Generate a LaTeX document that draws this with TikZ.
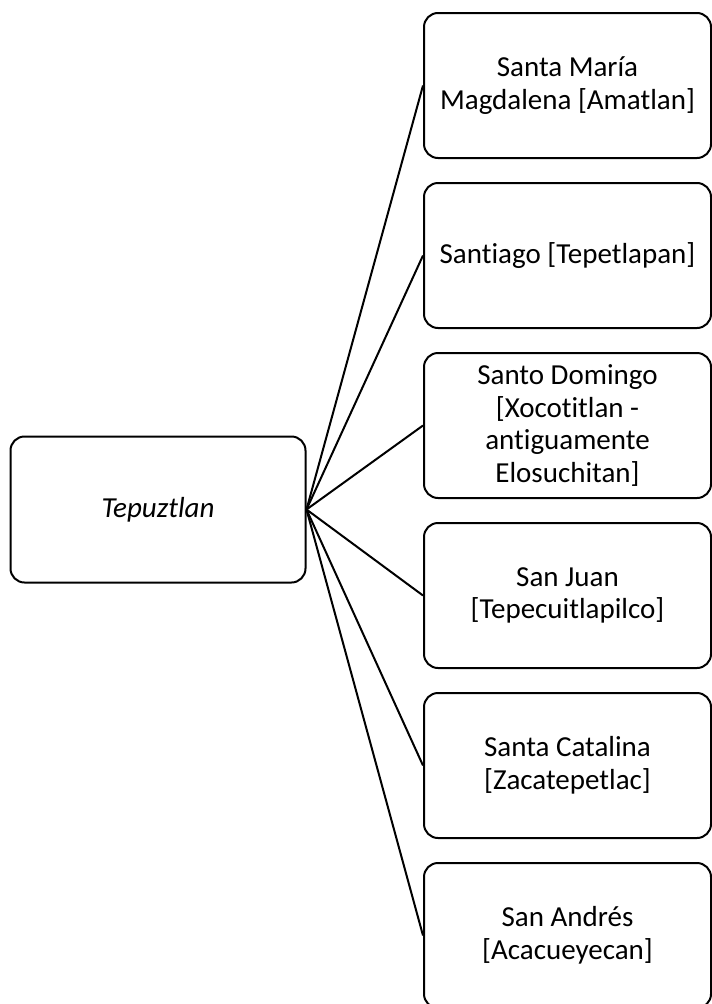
\documentclass[tikz,border=0pt]{standalone}
\usepackage{fontspec}
\setmainfont{Carlito}[Ligatures=NoCommon]
\usetikzlibrary{positioning}

\begin{document}
\begin{tikzpicture}[
  x=1pt, y=-1pt,
  node distance=23pt,
  lugar/.style={draw, line width=2pt, rounded corners=14pt, align=center,
                font=\fontsize{29}{32.5}\selectfont,
                minimum width=287pt, minimum height=145pt, inner sep=2pt},
  cabecera/.style={lugar, minimum width=295pt, minimum height=146pt,
                   font=\fontsize{29}{32.5}\selectfont\itshape},
  rama/.style={line width=2pt}
]
\useasboundingbox (0,0) rectangle (712,1004);
\node[cabecera] (cab) at (158,509.5) {Tepuztlan};
\node[lugar] (l1) at (567.5,85.5) {Santa María\\Magdalena [Amatlan]};
\node[lugar, below=of l1] (l2) {Santiago [Tepetlapan]};
\node[lugar, below=of l2] (l3) {Santo Domingo\\{}[Xocotitlan -\\antiguamente\\Elosuchitan]};
\node[lugar, below=of l3] (l4) {San Juan\\{}[Tepecuitlapilco]};
\node[lugar, below=of l4] (l5) {Santa Catalina\\{}[Zacatepetlac]};
\node[lugar, below=of l5] (l6) {San Andrés\\{}[Acacueyecan]};
\foreach \n in {l1,l2,l3,l4,l5,l6}
  \draw[rama] (cab.east) -- (\n.west);
\end{tikzpicture}
\end{document}
